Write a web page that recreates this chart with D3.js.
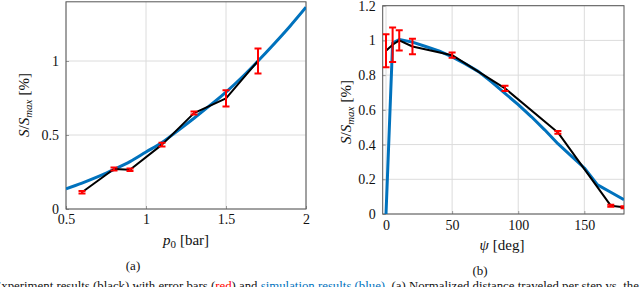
<!DOCTYPE html>
<html>
<head>
<meta charset="utf-8">
<script src="https://cdn.jsdelivr.net/npm/d3@7"></script>
<style>
  html, body { margin: 0; padding: 0; background: #fff; }
  svg { display: block; }
</style>
</head>
<body>
<svg id="chart" width="640" height="287" font-family="Liberation Serif"></svg>
<script>
/* (a) pressure sweep */
const pressure = [0.6, 0.8, 0.9, 1.1, 1.3, 1.5, 1.7];
const pressureExp = [0.113, 0.27, 0.265, 0.435, 0.648, 0.748, 1.0];
const pressureErr = [0.008, 0.01, 0.008, 0.012, 0.01, 0.055, 0.085];
const pressureSimX = [0.5, 0.6, 0.7, 0.8, 0.9, 1.0, 1.1, 1.2, 1.3, 1.4, 1.5, 1.6, 1.7, 1.8, 1.9, 2.0];
const pressureSim = [0.137, 0.175, 0.218, 0.268, 0.32, 0.385, 0.45, 0.53, 0.613, 0.7, 0.79, 0.89, 1.0, 1.115, 1.235, 1.363];
const pressureTicksX = [0.5, 1, 1.5, 2];
const pressureTicksY = [0, 0.5, 1];

/* (b) angle sweep */
const angle = [0, 5, 10, 20, 50, 90, 130, 170, 180];
const angleExp = [0.94, 0.975, 1.0, 0.965, 0.915, 0.724, 0.47, 0.048, 0.039];
const angleErr = [0.095, 0.1, 0.058, 0.044, 0.015, 0.015, 0.008, 0.006, 0.006];
const angleSimX = [0, 5, 10, 20, 30, 40, 50, 60, 70, 80, 90, 100, 110, 120, 130, 140, 150, 160, 170, 180];
const angleSim = [0, 0.985, 1.005, 0.99, 0.965, 0.94, 0.905, 0.865, 0.82, 0.76, 0.695, 0.63, 0.56, 0.485, 0.405, 0.335, 0.265, 0.168, 0.125, 0.083];
const angleTicksX = [0, 50, 100, 150];
const angleTicksY = [0, 0.2, 0.4, 0.6, 0.8, 1, 1.2];

const FONT = 'Liberation Serif';
const blue = '#0072bd';
const red = '#ff0000';
const svg = d3.select('#chart');

function label(x, y) {
  return svg.append('text').attr('x', x).attr('y', y)
    .attr('font-family', FONT).attr('font-size', 14).attr('fill', '#111');
}

function panel(opt) {
  const { x, y, xs, ys, err, simX, sim, ticksX, ticksY } = opt;
  const g = svg.append('g');
  const [x0, x1] = x.range();
  const [y0, y1] = y.range();

  /* grid */
  g.append('g').selectAll('line').data(ticksX).join('line')
    .attr('x1', d => x(d)).attr('x2', d => x(d))
    .attr('y1', y0).attr('y2', y1)
    .attr('stroke', '#dcdcdc').attr('stroke-width', 1);
  g.append('g').selectAll('line').data(ticksY).join('line')
    .attr('x1', x0).attr('x2', x1)
    .attr('y1', d => y(d)).attr('y2', d => y(d))
    .attr('stroke', '#dcdcdc').attr('stroke-width', 1);

  /* axes with inward ticks */
  const xa = g.append('g').attr('transform', `translate(0,${y0})`)
    .call(d3.axisBottom(x).tickValues(ticksX).tickSize(-3).tickPadding(opt.xPad).tickFormat(d3.format('')));
  const ya = g.append('g').attr('transform', `translate(${x0},0)`)
    .call(d3.axisLeft(y).tickValues(ticksY).tickSize(-3).tickPadding(7).tickFormat(d3.format('')));
  [xa, ya].forEach(a => {
    a.attr('font-family', FONT).attr('font-size', 14);
    a.select('.domain').remove();
    a.selectAll('line').attr('stroke', '#999');
    a.selectAll('text').attr('fill', '#111');
  });

  /* frame */
  g.append('rect')
    .attr('x', x0).attr('y', y1)
    .attr('width', x1 - x0).attr('height', y0 - y1)
    .attr('fill', 'none').attr('stroke', '#555').attr('stroke-width', 1);

  const clipId = 'clip' + opt.id;
  svg.append('clipPath').attr('id', clipId).append('rect')
    .attr('x', x0).attr('y', y1).attr('width', x1 - x0).attr('height', y0 - y1);
  const plot = g.append('g').attr('clip-path', `url(#${clipId})`);

  /* simulation */
  plot.append('path')
    .datum(simX.map((d, i) => [d, sim[i]]))
    .attr('fill', 'none').attr('stroke', blue).attr('stroke-width', 3)
    .attr('stroke-linejoin', 'round')
    .attr('d', d3.line().x(d => x(d[0])).y(d => y(d[1])).curve(opt.curve));

  /* experiment */
  plot.append('path')
    .datum(xs.map((d, i) => [d, ys[i]]))
    .attr('fill', 'none').attr('stroke', '#000').attr('stroke-width', 2)
    .attr('stroke-linejoin', 'round')
    .attr('d', d3.line().x(d => x(d[0])).y(d => y(d[1])));

  /* error bars */
  const eb = plot.append('g').selectAll('g').data(xs.map((d, i) => i)).join('g')
    .attr('stroke', red).attr('stroke-width', 2);
  eb.append('line')
    .attr('x1', i => x(xs[i])).attr('x2', i => x(xs[i]))
    .attr('y1', i => y(ys[i] - err[i])).attr('y2', i => y(ys[i] + err[i]));
  [1, -1].forEach(s => {
    eb.append('line')
      .attr('x1', i => x(xs[i]) - 3.5).attr('x2', i => x(xs[i]) + 3.5)
      .attr('y1', i => y(ys[i] + s * err[i])).attr('y2', i => y(ys[i] + s * err[i]));
  });

  /* y label */
  const yl = label(0, 0)
    .attr('transform', `translate(${opt.yLabelX},${opt.yLabelY}) rotate(-90)`)
    .attr('text-anchor', 'middle').attr('font-size', 15);
  yl.append('tspan').attr('font-style', 'italic').text('S');
  yl.append('tspan').text('/');
  yl.append('tspan').attr('font-style', 'italic').text('S');
  yl.append('tspan').attr('font-style', 'italic').attr('font-size', 11).attr('dy', 3).text('max');
  yl.append('tspan').attr('dy', -3).attr('dx', 4).text('[%]');
}

panel({
  id: 'a',
  x: d3.scaleLinear().domain([0.5, 2]).range([66, 306]),
  y: d3.scaleLinear().domain([0, 1.4]).range([209, 1.8]),
  xs: pressure, ys: pressureExp, err: pressureErr,
  simX: pressureSimX, sim: pressureSim,
  ticksX: pressureTicksX, ticksY: pressureTicksY,
  xPad: 5,
  curve: d3.curveMonotoneX,
  yLabelX: 29, yLabelY: 105
});

panel({
  id: 'b',
  x: d3.scaleLinear().domain([-2.5, 180]).range([382.7, 624]),
  y: d3.scaleLinear().domain([0, 1.2]).range([214, 5.7]),
  xs: angle, ys: angleExp, err: angleErr,
  simX: angleSimX, sim: angleSim,
  ticksX: angleTicksX, ticksY: angleTicksY,
  xPad: 6,
  curve: d3.curveLinear,
  yLabelX: 351, yLabelY: 112
});

/* x labels */
const xla = label(186, 245).attr('text-anchor', 'middle').attr('font-size', 15);
xla.append('tspan').attr('font-style', 'italic').text('p');
xla.append('tspan').attr('font-size', 11).attr('dy', 3).text('0');
xla.append('tspan').attr('dy', -3).attr('dx', 4).text('[bar]');

const xlb = label(502, 250).attr('text-anchor', 'middle').attr('font-size', 15);
xlb.append('tspan').attr('font-style', 'italic').text('ψ');
xlb.append('tspan').attr('dx', 4).text('[deg]');

/* sub-captions */
label(133, 270).attr('text-anchor', 'middle').attr('font-size', 13).text('(a)');
label(480, 275).attr('text-anchor', 'middle').attr('font-size', 13).text('(b)');

/* figure caption, cut at the bottom edge */
const cap = label(-6.5, 290).attr('font-size', 12.8);
cap.append('tspan').text('Experiment results (black) with error bars (');
cap.append('tspan').attr('fill', red).text('red');
cap.append('tspan').text(') and ');
cap.append('tspan').attr('fill', blue).text('simulation results (blue)');
cap.append('tspan').text('. (a) Normalized distance traveled per step vs. the');
</script>
</body>
</html>
